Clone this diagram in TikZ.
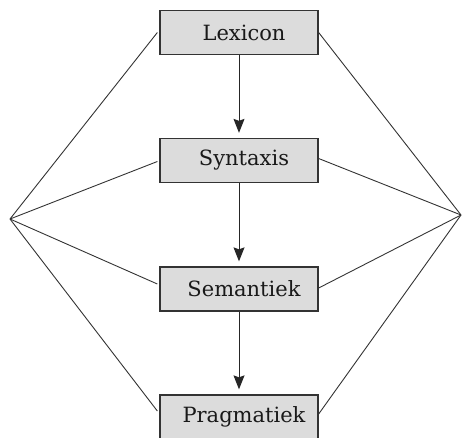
\documentclass[tikz,border=0pt]{standalone}
\usepackage{fontspec}
\setmainfont{DejaVu Serif}
\usetikzlibrary{arrows.meta}
\definecolor{boxfill}{HTML}{DCDCDC}
\definecolor{boxline}{HTML}{333333}
\tikzset{
  levelbox/.style={draw=boxline, fill=boxfill, line width=1.3pt, minimum width=158pt, minimum height=44pt, inner sep=0pt, font=\fontsize{21}{24}\selectfont, text=black!90},
  flow/.style={line width=1pt, draw=black!85, -{Stealth[length=14pt,width=11pt,inset=2pt]}, shorten >=5pt},
  side/.style={line width=0.9pt, draw=black!80}
}
\newcommand{\shiftedlabel}[1]{\hspace*{10pt}#1}
\begin{document}
\begin{tikzpicture}[x=1pt,y=-1pt]
\useasboundingbox (0,0) rectangle (462,437);
\clip (0,0) rectangle (462,437);
\node[levelbox] (lex) at (239,32.5) {\shiftedlabel{Lexicon}};
\node[levelbox] (syn) at (239,160.5) {\shiftedlabel{Syntaxis}};
\node[levelbox] (sem) at (239,289) {\shiftedlabel{Semantiek}};
\node[levelbox] (pra) at (239,417) {\shiftedlabel{Pragmatiek}};
\coordinate (L) at (10,219);
\coordinate (R) at (461,215);
\draw[flow] (lex.south) -- (syn.north);
\draw[flow] (syn.south) -- (sem.north);
\draw[flow] (sem.south) -- (pra.north);
\draw[side] (L) -- ([xshift=-2pt,yshift=0pt]lex.west);
\draw[side] (L) -- ([xshift=-2pt,yshift=-1pt]syn.west);
\draw[side] (L) -- ([xshift=-2pt,yshift=5pt]sem.west);
\draw[side] (L) -- ([xshift=-2pt,yshift=6pt]pra.west);
\draw[side] (R) -- ([xshift=0pt,yshift=0pt]lex.east);
\draw[side] (R) -- ([xshift=0pt,yshift=2pt]syn.east);
\draw[side] (R) -- ([xshift=0pt,yshift=1pt]sem.east);
\draw[side] (R) -- ([xshift=0pt,yshift=3pt]pra.east);
\end{tikzpicture}
\end{document}
